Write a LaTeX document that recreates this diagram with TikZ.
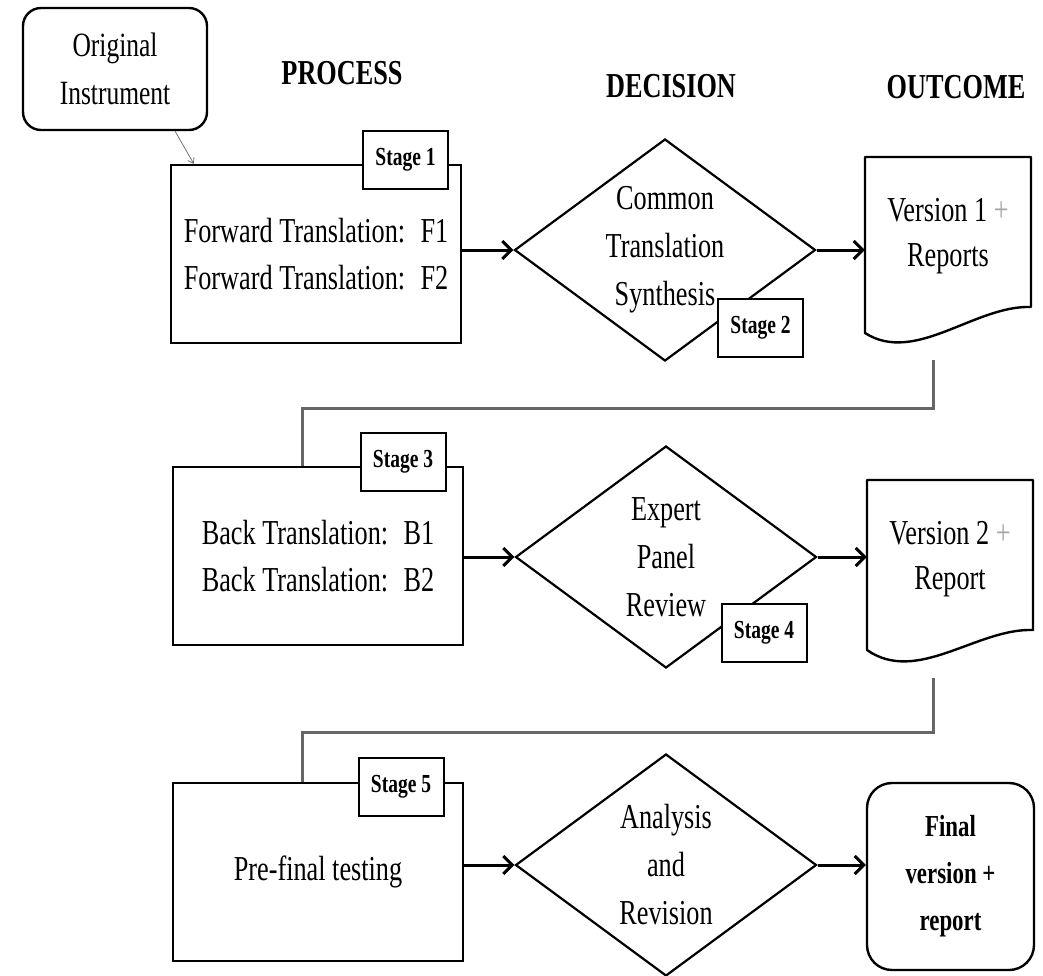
\documentclass[tikz,border=0pt]{standalone}
\usepackage{fontspec}
\setmainfont{Liberation Serif}[FakeStretch=0.75]
\usetikzlibrary{arrows.meta}
\usetikzlibrary{shapes.geometric}

\tikzset{
  header/.style={font=\fontsize{35}{38}\selectfont\bfseries},
  startbox/.style={draw, rounded corners=18pt, line width=2.4pt, minimum width=184pt, minimum height=122pt, align=center, font=\fontsize{34}{48}\selectfont},
  process/.style={draw, line width=2.4pt, minimum width=290pt, minimum height=178pt, align=center, font=\fontsize{35}{47}\selectfont},
  decision/.style={draw, diamond, aspect=1.356, line width=2.2pt, minimum width=301pt, minimum height=222pt, inner sep=0pt, align=center, font=\fontsize{35}{48}\selectfont},
  stagetag/.style={draw, fill=white, line width=2pt, minimum width=85pt, minimum height=58pt, inner sep=0pt, font=\fontsize{26}{28}\selectfont\bfseries},
  outtext/.style={minimum width=166pt, align=center, font=\fontsize{35}{45}\selectfont},
  finalbox/.style={draw, rounded corners=25pt, line width=2.4pt, minimum width=167pt, minimum height=187pt, align=center, font=\fontsize{30.5}{47}\selectfont\bfseries},
  docline/.style={line width=2.4pt, line join=round},
  flow/.style={line width=3pt, -{Straight Barb[length=9pt,width=18pt]}},
  link/.style={line width=3pt, black!60},
  pointer/.style={line width=0.8pt, black!55, -{Straight Barb[length=5pt,width=7pt]}},
}

\begin{document}
\begin{tikzpicture}[x=1pt, y=-1pt]
\useasboundingbox (0,0) rectangle (1043,975);
%
\node[header] (hproc) at (342,73) {PROCESS};
\node[header] (hdec) at (671,86) {DECISION};
\node[header] (hout) at (956,87) {OUTCOME};
%
\node[startbox] (orig) at (115,69) {Original\\Instrument};
%
\node[process] (b1) at (316,254) {Forward Translation:~ F1\\Forward Translation:~ F2};
\node[process] (b3) at (318,556) {Back Translation:~ B1\\Back Translation:~ B2};
\node[process] (b5) at (318,872) {Pre-final testing};
%
\node[decision] (d1) at (665,250) {Common\\Translation\\Synthesis};
\node[decision] (d2) at (666,557) {Expert\\Panel\\Review};
\node[decision] (d3) at (666,865) {Analysis\\and\\Revision};
%
\draw[docline] (865,157) -- (1031,157) -- (1031,307) .. controls (975,305) and (915,365) .. (865,333) -- cycle;
\draw[docline] (867,480) -- (1033,480) -- (1033,630) .. controls (977,628) and (917,685) .. (867,650) -- cycle;
\node[outtext] (v1) at (948,236) {Version 1 {\color{black!35}+}\\Reports};
\node[outtext] (v2) at (950,559) {Version 2 {\color{black!35}+}\\Report};
\node[finalbox] (fv) at (950.5,876.5) {Final\\version +\\report};
%
\node[stagetag] (s1) at (405.5,160) {Stage 1};
\node[stagetag] (s2) at (760.5,327.5) {Stage 2};
\node[stagetag] (s3) at (403,462) {Stage 3};
\node[stagetag] (s4) at (764,633) {Stage 4};
\node[stagetag] (s5) at (401,787) {Stage 5};
%
\draw[pointer] (orig.-46) -- ([xshift=24pt]b1.north west);
%
\draw[flow] (b1.east |- d1.west) -- (d1.west);
\draw[flow] (d1.east) -- (d1.east -| v1.west);
\draw[flow] (b3.east |- d2.west) -- (d2.west);
\draw[flow] (d2.east) -- (d2.east -| v2.west);
\draw[flow] (b5.east |- d3.west) -- (d3.west);
\draw[flow] (d3.east) -- (d3.east -| fv.west);
%
\coordinate (v1out) at (933,360);
\coordinate (v2out) at (933,678);
\draw[link] (v1out) -- ++(0,48) -| ([xshift=-16pt]b3.north);
\draw[link] (v2out) -- ++(0,54) -| ([xshift=-16pt]b5.north);
%
\end{tikzpicture}
\end{document}
